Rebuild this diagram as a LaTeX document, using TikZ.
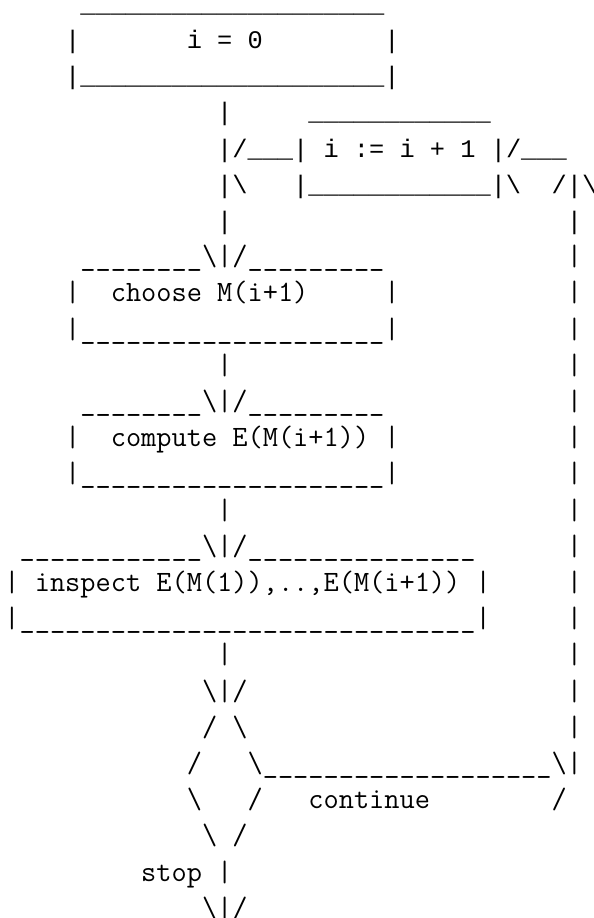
\documentclass[tikz,border=0pt]{standalone}
\usepackage{fontspec}
\newfontfamily\topmono{Liberation Mono}
\newlength\twT
\newlength\twB
\newcommand\Us[1]{\count255=#1 \loop\ifnum\count255>0 \_\advance\count255 -1 \repeat}
\newcommand\BS{\textbackslash}
\AtBeginDocument{%
  \settowidth\twT{\topmono\fontsize{25}{30}\selectfont M}%
  \settowidth\twB{\ttfamily\fontsize{29}{34}\selectfont M}%
  \pgfmathsetmacro\topsize{25*15.2/\twT}%
  \pgfmathsetmacro\botsize{29*15.2/\twB}%
}
\tikzset{
  seg/.style={inner sep=0pt, outer sep=0pt, anchor=base west, text=black},
  T/.style={font=\topmono\fontsize{\topsize}{\topsize}\selectfont},
  B/.style={font=\ttfamily\fontsize{\botsize}{\botsize}\selectfont}
}
% #1 style, #2 line, #3 column, #4 text
\newcommand\seg[4]{\node[seg,#1] (l#2c#3) at ({4.4+15.2*#3},{-(48.5+(#2-2)*36.2)}) {#4};}
\begin{document}
\begin{tikzpicture}[x=1pt,y=1pt]
\fill[white] (0,0) rectangle (594,-918);
\useasboundingbox (0,0) rectangle (594,-918);
% line 1-7 (sans mono)
\seg{T}{1}{5}{\Us{20}}
\seg{T}{2}{4}{|}
\seg{T}{2}{12}{i = 0}
\seg{T}{2}{25}{|}
\seg{T}{3}{4}{|\Us{20}|}
\seg{T}{4}{14}{|}
\seg{T}{4}{20}{\Us{12}}
\seg{T}{5}{14}{|/\Us{3}|}
\seg{T}{5}{21}{i := i + 1}
\seg{T}{5}{32}{|/\Us{3}}
\seg{T}{6}{14}{|\BS}
\seg{T}{6}{19}{|\Us{12}|\BS}
\seg{T}{6}{36}{/|\BS}
\seg{T}{7}{14}{|}
\seg{T}{7}{37}{|}
% line 8 onwards (typewriter)
\seg{B}{8}{5}{\Us{8}\BS|/\Us{9}}
\seg{B}{8}{37}{|}
\seg{B}{9}{4}{|}
\seg{B}{9}{7}{choose M(i+1)}
\seg{B}{9}{25}{|}
\seg{B}{9}{37}{|}
\seg{B}{10}{4}{|\Us{20}|}
\seg{B}{10}{37}{|}
\seg{B}{11}{14}{|}
\seg{B}{11}{37}{|}
\seg{B}{12}{5}{\Us{8}\BS|/\Us{9}}
\seg{B}{12}{37}{|}
\seg{B}{13}{4}{|}
\seg{B}{13}{7}{compute E(M(i+1))}
\seg{B}{13}{25}{|}
\seg{B}{13}{37}{|}
\seg{B}{14}{4}{|\Us{20}|}
\seg{B}{14}{37}{|}
\seg{B}{15}{14}{|}
\seg{B}{15}{37}{|}
\seg{B}{16}{1}{\Us{12}\BS|/\Us{15}}
\seg{B}{16}{37}{|}
\seg{B}{17}{0}{|}
\seg{B}{17}{2}{inspect E(M(1)),..,E(M(i+1))}
\seg{B}{17}{31}{|}
\seg{B}{17}{37}{|}
\seg{B}{18}{0}{|\Us{30}|}
\seg{B}{18}{37}{|}
\seg{B}{19}{14}{|}
\seg{B}{19}{37}{|}
\seg{B}{20}{13}{\BS|/}
\seg{B}{20}{37}{|}
\seg{B}{21}{13}{/}
\seg{B}{21}{15}{\BS}
\seg{B}{21}{37}{|}
\seg{B}{22}{12}{/}
\seg{B}{22}{16}{\BS\Us{19}\BS|}
\seg{B}{23}{12}{\BS}
\seg{B}{23}{16}{/}
\seg{B}{23}{20}{continue}
\seg{B}{23}{36}{/}
\seg{B}{24}{13}{\BS}
\seg{B}{24}{15}{/}
\seg{B}{25}{9}{stop}
\seg{B}{25}{14}{|}
\seg{B}{26}{13}{\BS|/}
\end{tikzpicture}
\end{document}
